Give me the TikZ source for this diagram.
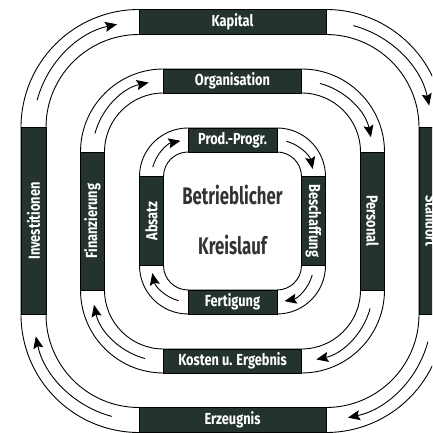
\documentclass[tikz,border=0pt]{standalone}
\usepackage{fontspec}
\newfontfamily\boxfont{Fira Sans}[FakeStretch=0.8]
\newfontfamily\titlefont{Fira Sans}[FakeStretch=0.7]
\usetikzlibrary{arrows.meta,calc}
\definecolor{bandgreen}{RGB}{36,52,44}
\definecolor{titlegray}{RGB}{50,52,50}
\tikzset{
    band/.style={
        draw, line width=0.9pt, fill=white, even odd rule
    },
    darkbox/.style={
        draw, line width=0.9pt, fill=bandgreen, text=white, inner sep=0pt,
        font=\boxfont\bfseries\fontsize{16}{16}\selectfont
    },
    flow/.style={
        line width=0.9pt, -{Stealth[length=12pt, width=10pt, inset=2pt]}
    },
    title/.style={
        text=titlegray, font=\titlefont\bfseries\fontsize{24}{24}\selectfont
    }
}

\begin{document}
\begin{tikzpicture}[x=1pt, y=1pt]
\useasboundingbox (0,0) rectangle (432,433);
\clip (0,0) rectangle (432,433);
\coordinate (c) at (232.5,212);

% Outer ring
\draw[band] [rounded corners=118pt] ($(c)+(-211.5,-211.5)$) rectangle ($(c)+(211.5,211.5)$)
    [rounded corners=93pt] ($(c)+(-186.5,-186.5)$) rectangle ($(c)+(186.5,186.5)$);
\node[darkbox, minimum width=187pt, minimum height=25pt] (kapital) at ($(c)+(0,199)$) {Kapital};
\node[darkbox, minimum width=187pt, minimum height=25pt, rotate=-90] (standort) at ($(c)+(199,0)$) {Standort};
\node[darkbox, minimum width=187pt, minimum height=25pt] (erzeugnis) at ($(c)+(0,-199)$) {Erzeugnis};
\node[darkbox, minimum width=187pt, minimum height=25pt, rotate=90] (invest) at ($(c)+(-199,0)$) {Investitionen};

% Middle ring
\draw[band] [rounded corners=83pt] ($(c)+(-152,-152)$) rectangle ($(c)+(152,152)$)
    [rounded corners=59pt] ($(c)+(-128,-128)$) rectangle ($(c)+(128,128)$);
\node[darkbox, minimum width=138pt, minimum height=24pt] (orga) at ($(c)+(0,140)$) {Organisation};
\node[darkbox, minimum width=138pt, minimum height=24pt, rotate=-90] (personal) at ($(c)+(140,0)$) {Personal};
\node[darkbox, minimum width=138pt, minimum height=24pt] (kosten) at ($(c)+(0,-140)$) {Kosten u. Ergebnis};
\node[darkbox, minimum width=138pt, minimum height=24pt, rotate=90] (finanz) at ($(c)+(-140,0)$) {Finanzierung};

% Inner ring
\draw[band] [rounded corners=48.5pt] ($(c)+(-93,-93)$) rectangle ($(c)+(93,93)$)
    [rounded corners=24.5pt] ($(c)+(-69,-69)$) rectangle ($(c)+(69,69)$);
\node[darkbox, minimum width=89pt, minimum height=24pt] (prog) at ($(c)+(0,81)$) {Prod.-Progr.};
\node[darkbox, minimum width=89pt, minimum height=24pt, rotate=-90] (beschaff) at ($(c)+(81,0)$) {Beschaffung};
\node[darkbox, minimum width=89pt, minimum height=24pt] (fertig) at ($(c)+(0,-81)$) {Fertigung};
\node[darkbox, minimum width=89pt, minimum height=24pt, rotate=90] (absatz) at ($(c)+(-81,0)$) {Absatz};

% Arrows in the corners, clockwise
\foreach \b [evaluate=\b as \s using \b+75, evaluate=\b as \e using \b+12] in {90,0,-90,180} {
    \draw[flow] ($(c)+(\b+45:132.2)+(\s:105.5)$) arc[start angle=\s, end angle=\e, radius=105.5];
    \draw[flow] ($(c)+(\b+45:97.6)+(\s:71)$) arc[start angle=\s, end angle=\e, radius=71];
    \draw[flow] ($(c)+(\b+45:62.9)+(\s:36.5)$) arc[start angle=\s, end angle=\e, radius=36.5];
}

% Centre
\node[title] (betrieb) at ($(c)+(0,26)$) {Betrieblicher};
\node[title] (kreis) at ($(c)+(0,-24)$) {Kreislauf};

\end{tikzpicture}
\end{document}
